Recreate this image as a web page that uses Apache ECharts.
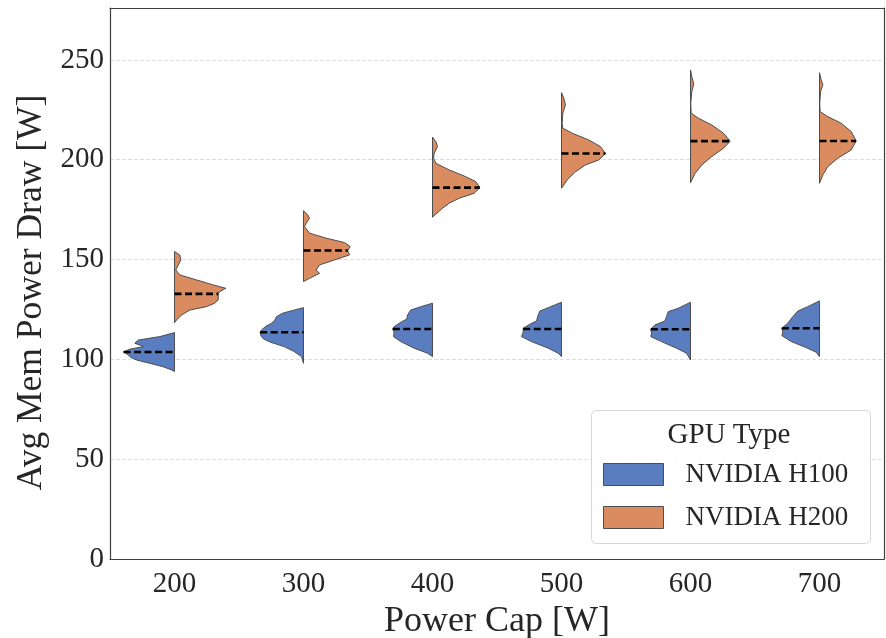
<!DOCTYPE html>
<html>
<head>
<meta charset="utf-8">
<script src="https://cdn.jsdelivr.net/npm/echarts@6/dist/echarts.min.js"></script>
<style>
  html, body { margin: 0; padding: 0; background: #ffffff; }
  #chart { width: 886px; height: 638px; }
</style>
</head>
<body>
<div id="chart"></div>
<script>
// Power caps on the x axis
const categories = ['200', '300', '400', '500', '600', '700'];
const seriesNames = ['NVIDIA H100', 'NVIDIA H200'];
const yTicks = [0, 50, 100, 150, 200, 250];

// Median average memory power draw [W] per power cap
const h100Medians = [103.7, 113.6, 115.2, 115.2, 115.1, 115.6];
const h200Medians = [132.8, 154.5, 186.0, 203.1, 209.3, 209.4];

// Density profiles: [power draw W, half-width in % of the category band]
const h100Profiles = [
  [[113.4,0],[111.4,11.4],[109.7,27.9],[108.1,30.8],[106.4,24.0],[105.1,34.7],[103.7,39.5],[102.2,35.7],[101.0,34.1],[99.7,29.5],[98.0,19.1],[96.3,8.8],[94.7,2.3],[93.9,0]],
  [[125.9,0],[124.7,7.2],[123.1,16.3],[121.4,20.9],[119.7,22.2],[118.1,24.8],[116.4,29.5],[114.7,32.6],[113.6,33.6],[111.9,33.1],[110.2,31.0],[108.6,25.6],[106.4,15.0],[103.9,7.2],[101.4,1.6],[98.0,0]],
  [[128.1,0],[126.4,9.1],[124.7,16.8],[122.2,19.4],[120.2,19.9],[118.6,24.6],[116.4,29.7],[115.2,30.8],[113.6,29.7],[111.4,30.2],[108.9,24.6],[105.6,14.2],[103.1,3.9],[101.4,0]],
  [[128.6,0],[125.9,10.3],[124.2,16.8],[122.2,18.1],[119.2,19.4],[117.6,24.6],[115.6,29.7],[113.6,29.7],[111.4,31.0],[108.9,23.3],[105.6,10.3],[103.1,2.6],[101.4,0]],
  [[128.6,0],[125.6,9.5],[123.9,17.3],[121.4,18.6],[119.2,19.9],[117.2,27.7],[115.1,30.8],[113.1,30.2],[111.4,30.8],[108.9,22.5],[105.6,10.9],[103.1,3.1],[99.7,0]],
  [[129.3,0],[126.4,9.1],[124.2,16.8],[121.4,20.7],[118.1,24.6],[115.6,29.2],[113.6,28.4],[111.9,29.2],[108.9,21.9],[105.9,10.3],[103.6,2.6],[101.4,0]]
];
const h200Profiles = [
  [[154.0,0],[152.3,4.1],[149.8,4.9],[147.3,2.9],[144.8,1.0],[142.3,4.1],[139.8,17.1],[137.3,30.0],[135.6,39.8],[133.9,34.9],[132.8,33.9],[129.8,33.9],[128.1,31.0],[126.4,24.8],[124.7,11.9],[122.2,5.4],[119.7,1.6],[118.4,0]],
  [[174.5,0],[172.3,3.3],[170.7,4.7],[168.2,2.1],[166.5,0.8],[163.2,4.7],[160.7,17.6],[158.5,31.8],[156.5,36.2],[154.5,34.3],[152.3,35.7],[149.8,24.0],[147.3,12.4],[144.8,9.8],[143.1,12.4],[140.6,4.7],[139.0,0]],
  [[211.3,0],[209.1,2.6],[206.6,3.9],[203.3,1.3],[200.8,0.8],[198.2,2.6],[194.9,12.9],[191.5,25.8],[189.0,33.6],[186.0,36.7],[183.2,32.3],[180.7,20.7],[178.2,12.9],[175.7,7.8],[172.8,2.6],[171.2,0]],
  [[233.6,0],[230.8,1.8],[227.5,3.1],[223.3,1.0],[218.3,0.5],[215.8,1.0],[213.3,8.3],[209.9,21.2],[206.6,30.2],[203.1,34.1],[199.9,28.9],[197.4,18.6],[194.0,10.9],[189.9,4.4],[185.7,0]],
  [[245.0,0],[241.6,1.0],[238.0,2.6],[234.1,1.0],[228.3,0.2],[223.3,0.5],[220.8,6.2],[217.4,16.5],[213.3,25.6],[209.3,30.8],[205.8,25.6],[201.6,16.5],[197.4,8.8],[193.2,3.6],[188.5,0]],
  [[243.6,0],[240.0,1.3],[237.5,2.6],[234.1,0.8],[228.3,0.2],[224.1,0.5],[221.6,6.4],[218.3,16.8],[214.1,24.6],[209.4,28.4],[204.9,24.6],[200.8,14.2],[196.5,6.4],[192.4,2.6],[188.2,0]]
];

const FONT = '"Liberation Serif", "DejaVu Serif", serif';
const TEXT = '#262626';
const EDGE = '#4d4d4d';
const FRAME = '#404040';
const colors = ['#597dbf', '#da8b5f'];

// Half-width (% of band) of a profile at value v, linear between samples
function widthAt(profile, v) {
  for (let i = 0; i < profile.length - 1; i++) {
    const a = profile[i], b = profile[i + 1];
    if ((v <= a[0] && v >= b[0]) || (v >= a[0] && v <= b[0])) {
      const t = a[0] === b[0] ? 0 : (v - a[0]) / (b[0] - a[0]);
      return a[1] + t * (b[1] - a[1]);
    }
  }
  return 0;
}

// Half violin: side -1 draws left of the category centre, +1 right
function makeRenderer(profiles, side, color) {
  return function (params, api) {
    const idx = api.value(0);
    const median = api.value(1);
    const profile = profiles[idx];
    const band = api.size([1, 0])[0];
    const cx = api.coord([idx, 0])[0];
    const pts = profile.map(function (p) {
      return [cx + side * p[1] / 100 * band, api.coord([idx, p[0]])[1]];
    });
    pts.push([cx, api.coord([idx, profile[profile.length - 1][0]])[1]]);
    pts.push([cx, api.coord([idx, profile[0][0]])[1]]);
    const my = api.coord([idx, median])[1];
    const mx = cx + side * widthAt(profile, median) / 100 * band;
    return {
      type: 'group',
      children: [
        {
          type: 'polygon',
          shape: { points: pts },
          style: { fill: color, stroke: EDGE, lineWidth: 1 }
        },
        {
          type: 'line',
          shape: { x1: Math.min(cx, mx), y1: my, x2: Math.max(cx, mx), y2: my },
          style: { stroke: '#000000', lineWidth: 2.6, lineDash: [7, 3.5] }
        }
      ]
    };
  };
}

function seriesFor(name, profiles, medians, side, color) {
  return {
    name: name,
    type: 'custom',
    coordinateSystem: 'cartesian2d',
    itemStyle: { color: color, borderColor: EDGE, borderWidth: 1 },
    encode: { x: 0, y: 1 },
    data: medians.map(function (m, i) { return [i, m]; }),
    renderItem: makeRenderer(profiles, side, color),
    clip: false,
    z: 3
  };
}

const frameLine = { show: true, onZero: false, lineStyle: { color: FRAME, width: 1.2 } };

const chart = echarts.init(document.getElementById('chart'), null, { renderer: 'canvas' });
chart.setOption({
  animation: false,
  backgroundColor: '#ffffff',
  grid: { left: 110, right: 2, top: 8, bottom: 79, outerBoundsMode: 'none', containLabel: false },
  xAxis: [
    {
      type: 'category',
      data: categories,
      boundaryGap: true,
      name: 'Power Cap [W]',
      nameLocation: 'middle',
      nameGap: 34,
      nameTextStyle: { fontFamily: FONT, fontSize: 36, color: TEXT },
      axisLine: frameLine,
      axisTick: { show: false },
      axisLabel: { fontFamily: FONT, fontSize: 29, color: TEXT, margin: 11 },
      splitLine: { show: false },
      z: 5
    },
    {
      type: 'category',
      data: categories,
      position: 'top',
      axisLine: frameLine,
      axisTick: { show: false },
      axisLabel: { show: false },
      splitLine: { show: false },
      z: 5
    }
  ],
  yAxis: [
    {
      type: 'value',
      min: yTicks[0],
      max: 276,
      interval: yTicks[1] - yTicks[0],
      name: 'Avg Mem Power Draw [W]',
      nameLocation: 'middle',
      nameGap: 52,
      nameTextStyle: { fontFamily: FONT, fontSize: 35.5, color: TEXT, padding: [0, 18, 0, 0] },
      axisLine: frameLine,
      axisTick: { show: false },
      axisLabel: { fontFamily: FONT, fontSize: 29, color: TEXT, margin: 6, showMaxLabel: false },
      splitLine: { show: true, lineStyle: { color: '#dedede', width: 1, type: [4, 2] } }
    },
    {
      type: 'value',
      min: yTicks[0],
      max: 276,
      interval: yTicks[1] - yTicks[0],
      position: 'right',
      axisLine: frameLine,
      axisTick: { show: false },
      axisLabel: { show: false },
      splitLine: { show: false },
      z: 5
    }
  ],
  legend: {
    data: seriesNames,
    orient: 'vertical',
    left: 598,
    top: 456,
    icon: 'rect',
    itemWidth: 60,
    itemHeight: 22,
    itemGap: 16,
    itemStyle: { borderColor: EDGE, borderWidth: 1 },
    textStyle: { fontFamily: FONT, fontSize: 27, lineHeight: 22, color: TEXT, padding: [0, 0, 0, 17] },
    selectedMode: false,
    z: 20
  },
  graphic: [
    {
      type: 'rect',
      z: 10,
      shape: { x: 591.5, y: 410.5, width: 279, height: 133, r: 5 },
      style: { fill: 'rgba(255,255,255,0.85)', stroke: '#d6d6d6', lineWidth: 1 }
    },
    {
      type: 'text',
      z: 20,
      x: 729,
      y: 435,
      style: {
        text: 'GPU Type', fontFamily: FONT, fontSize: 29, fill: TEXT,
        textAlign: 'center', textVerticalAlign: 'middle'
      }
    }
  ],
  series: [
    seriesFor(seriesNames[0], h100Profiles, h100Medians, -1, colors[0]),
    seriesFor(seriesNames[1], h200Profiles, h200Medians, 1, colors[1])
  ]
});
</script>
</body>
</html>
